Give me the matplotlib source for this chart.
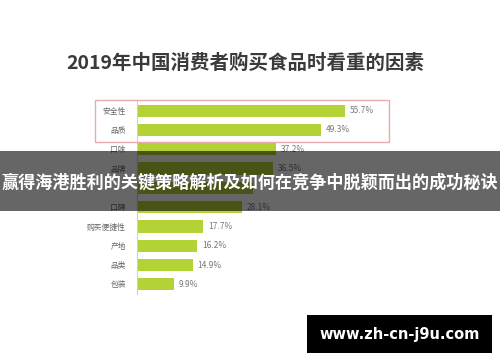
import matplotlib
matplotlib.use("Agg")
import matplotlib.pyplot as plt
from matplotlib.patches import Rectangle

plt.rcParams['font.family'] = ['Noto Sans CJK SC', 'DejaVu Sans']

title = "2019年中国消费者购买食品时看重的因素"
categories = ["安全性", "品质", "口味", "品牌", "营养", "口碑", "购买便捷性", "产地", "品类", "包装"]
values = [55.7, 49.3, 37.2, 36.5, 31.0, 28.1, 17.7, 16.2, 14.9, 9.9]
value_labels = ["55.7%", "49.3%", "37.2%", "36.5%", "", "28.1%", "17.7%", "16.2%", "14.9%", "9.9%"]
hidden_rows = [4]  # row fully covered by the banner in the reference
banner_text = "赢得海港胜利的关键策略解析及如何在竞争中脱颖而出的成功秘诀"
watermark = "www.zh-cn-j9u.com"

W, H = 500, 362
fig = plt.figure(figsize=(5.0, 3.62), dpi=100)
fig.patch.set_facecolor("white")

def fx(px):
    return px / W

def fy(py):
    return 1 - py / H

# main axes
ax_left, ax_right = 137, 437
ax_top, ax_bot = 101, 294
ax = fig.add_axes([fx(ax_left), fy(ax_bot), (ax_right - ax_left) / W, (ax_bot - ax_top) / H])
ypos = list(range(len(categories)))
ax.barh(ypos, values, height=0.63, color="#b2d235", zorder=2)
ax.set_ylim(len(categories) - 0.5, -0.5)
ax.set_xlim(0, (ax_right - ax_left) / 3.73)
ax.set_yticks(ypos)
ax.set_yticklabels(["" if i in hidden_rows else c for i, c in enumerate(categories)],
                   fontsize=5.6, color="#666666")
ax.tick_params(axis="y", length=0, pad=8)
ax.set_xticks([])
for s in ["top", "right", "bottom"]:
    ax.spines[s].set_visible(False)
ax.spines["left"].set_color("#d0d0d0")
ax.spines["left"].set_linewidth(0.8)
ax.set_facecolor("none")
for y, v, lab in zip(ypos, values, value_labels):
    if lab:
        ax.text(v + 1.3, y, lab, va="center", ha="left", fontsize=6.0, color="#777777")

# title
fig.text(fx(245), fy(63), title, ha="center", va="center", fontsize=14.0,
         fontweight="bold", color="#3a3a3a")

# red highlight box
fig.patches.append(Rectangle((fx(95), fy(142)), fx(389) - fx(95), fy(100) - fy(142),
                             transform=fig.transFigure, fill=False,
                             edgecolor="#eaa9aa", linewidth=1.0, zorder=5))

# banner overlay
fig.patches.append(Rectangle((0, fy(211)), 1, fy(151) - fy(211),
                             transform=fig.transFigure, facecolor="black",
                             alpha=0.6, edgecolor="none", zorder=10))
fig.text(0.5, fy(183), banner_text, ha="center", va="center", fontsize=12.3,
         fontweight="bold", color="white", zorder=11)

# watermark
fig.patches.append(Rectangle((fx(307), fy(353)), fx(492) - fx(307), fy(315) - fy(353),
                             transform=fig.transFigure, facecolor="black",
                             edgecolor="none", zorder=10))
fig.text(fx(399.5), fy(334), watermark, ha="center", va="center", fontsize=10.5,
         fontweight="bold", color="white", family=["DejaVu Sans"], zorder=11)

fig.savefig("out.png", dpi=100)
